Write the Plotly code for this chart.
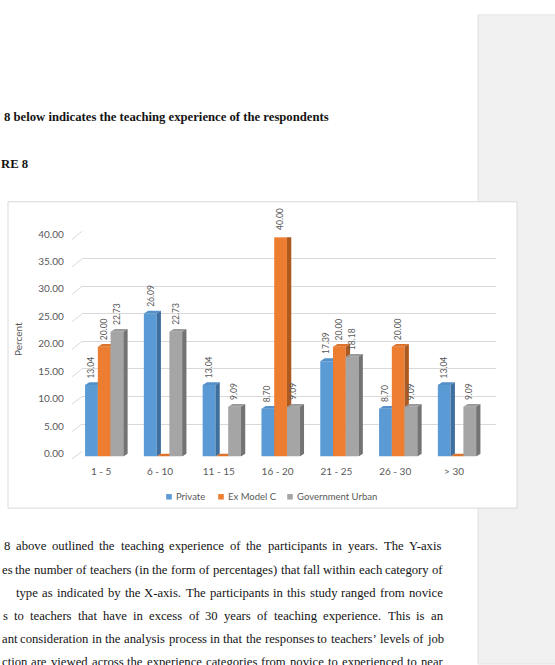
import plotly.graph_objects as go

# ---------------- data ----------------
categories = ["1 - 5", "6 - 10", "11 - 15", "16 - 20", "21 - 25", "26 - 30", "> 30"]
private = [13.04, 26.09, 13.04, 8.70, 17.39, 8.70, 13.04]
ex_model_c = [20.00, 0.00, 0.00, 40.00, 20.00, 20.00, 0.00]
government_urban = [22.73, 22.73, 9.09, 9.09, 18.18, 9.09, 9.09]
series_names = ["Private", "Ex Model C", "Government Urban"]
y_ticks = [0, 5, 10, 15, 20, 25, 30, 35, 40]
y_title = "Percent"

heading_line = "8 below indicates the teaching experience of the respondents"
figure_label = "RE 8"
paragraph_lines = [
    "8 above outlined the teaching experience of the participants in years. The Y-axis",
    "es the number of teachers (in the form of percentages) that fall within each category of",
    "type as indicated by the X-axis. The participants in this study ranged from novice",
    "s to teachers that have in excess of 30 years of teaching experience. This is an",
    "ant consideration in the analysis process in that the responses to teachers\u2019 levels of job",
    "ction are viewed across the experience categories from novice to experienced to near",
]

# ---------------- styling ----------------
W, H = 555, 665
front_colors = ["#5b9bd5", "#ed7d31", "#a5a5a5"]
top_colors = ["#5590c8", "#dd742d", "#9b9b9b"]
side_colors = ["#3e6f9e", "#ad5a20", "#737373"]
text_gray = "#595959"
grid_gray = "#d9d9d9"
chart_font = "Lato"


def px(x):
    return x / W


def py(y):
    return 1 - y / H


# front plane (bars) and back wall (grid) in pixels
FRONT_L, FRONT_R = 74.8, 486.4
FRONT_B, FRONT_T = 455.0, 232.0
BACK_L, BACK_R = 82.0, 496.0
BACK_B, BACK_T = 450.0, 226.0
YMAX = 40.0
DEPTH_X_PX, DEPTH_Y_PX = 4.3, 2.8
BARGAP = 0.349

n_cat = len(categories)
unit_x_px = (FRONT_R - FRONT_L) / n_cat
unit_y_px = (FRONT_B - FRONT_T) / YMAX
ddx = DEPTH_X_PX / unit_x_px
ddy = DEPTH_Y_PX / unit_y_px
bw = (1 - BARGAP) / 3

all_series = [private, ex_model_c, government_urban]
idx = list(range(n_cat))

fig = go.Figure()
annotations = []

# dummy trace so the back-wall subplot exists
fig.add_trace(go.Scatter(x=[], y=[], xaxis="x", yaxis="y", showlegend=False, hoverinfo="skip"))

for k, (vals, name) in enumerate(zip(all_series, series_names)):
    off = -1.5 * bw + k * bw
    fig.add_trace(go.Bar(
        x=idx, y=vals, width=bw, offset=off,
        marker=dict(color=front_colors[k], line=dict(width=0)),
        cliponaxis=False, showlegend=False, name=name,
        xaxis="x2", yaxis="y2", zorder=3 * k,
    ))
    tx, ty, sx, sy = [], [], [], []
    for i, v in enumerate(vals):
        xl = i + off
        xr = xl + bw
        tx += [xl, xl + ddx, xr + ddx, xr, xl, None]
        ty += [v, v + ddy, v + ddy, v, v, None]
        sx += [xr, xr + ddx, xr + ddx, xr, xr, None]
        sy += [0, ddy, v + ddy, v, 0, None]
        if v:
            annotations.append(dict(
                text=f"{v:.2f}", x=xl + bw / 2, y=v, xref="x2", yref="y2",
                xanchor="center", yanchor="bottom", yshift=DEPTH_Y_PX + 3,
                textangle=-90, showarrow=False, borderpad=0,
                font=dict(family=chart_font, size=8.5, color=text_gray)))
    fig.add_trace(go.Scatter(
        x=tx, y=ty, mode="lines", fill="toself", fillcolor=top_colors[k],
        line=dict(width=0, color=top_colors[k]), showlegend=False, hoverinfo="skip",
        cliponaxis=False, xaxis="x2", yaxis="y2", zorder=3 * k + 1,
    ))
    fig.add_trace(go.Scatter(
        x=sx, y=sy, mode="lines", fill="toself", fillcolor=side_colors[k],
        line=dict(width=0, color=side_colors[k]), showlegend=False, hoverinfo="skip",
        cliponaxis=False, xaxis="x2", yaxis="y2", zorder=3 * k + 2,
    ))

shapes = []
# grey side panel of the document page
shapes.append(dict(type="rect", xref="paper", yref="paper", x0=px(478), x1=px(556),
                   y0=py(666), y1=py(6), fillcolor="#f0f0f0",
                   line=dict(color="#e2e2e2", width=1), layer="below"))
# chart frame
shapes.append(dict(type="rect", xref="paper", yref="paper", x0=px(8), x1=px(517),
                   y0=py(507.5), y1=py(196), fillcolor="white",
                   line=dict(color=grid_gray, width=1), layer="below"))
# 3D tick connectors from the front labels to the back wall
for t in y_ticks:
    yf = FRONT_B - t * unit_y_px + 2.5
    yb = BACK_B - t * (BACK_B - BACK_T) / YMAX
    shapes.append(dict(type="line", xref="paper", yref="paper",
                       x0=px(72), y0=py(yf), x1=px(BACK_L), y1=py(yb),
                       line=dict(color=grid_gray, width=1), layer="below"))

# legend (Excel style: small square key followed by the series name)
legend_key_x = [169, 221, 290]
LEGEND_Y = 496
for k, name in enumerate(series_names):
    cx = legend_key_x[k]
    shapes.append(dict(type="rect", xref="paper", yref="paper",
                       x0=px(cx - 2.8), x1=px(cx + 2.8), y0=py(LEGEND_Y + 2.8), y1=py(LEGEND_Y - 2.8),
                       fillcolor=front_colors[k], line=dict(width=0)))
    annotations.append(dict(text=name, x=px(cx + 5), y=py(LEGEND_Y), xref="paper", yref="paper",
                            xanchor="left", yanchor="middle", showarrow=False,
                            font=dict(family=chart_font, size=9.5, color=text_gray)))

# ---------------- document text ----------------
TIMES = {
    'a': 444, 'b': 500, 'c': 444, 'd': 500, 'e': 444, 'f': 333, 'g': 500, 'h': 500,
    'i': 278, 'j': 278, 'k': 500, 'l': 278, 'm': 778, 'n': 500, 'o': 500, 'p': 500,
    'q': 500, 'r': 333, 's': 389, 't': 278, 'u': 500, 'v': 500, 'w': 722, 'x': 500,
    'y': 500, 'z': 444, 'T': 611, 'Y': 722, 'X': 722, 'A': 722, '.': 250, ',': 250,
    '-': 333, '(': 333, ')': 333, '\u2019': 333, ' ': 250,
}
for d in "0123456789":
    TIMES[d] = 500

BODY_FS = 12.7
BODY_FONT = "Liberation Serif"
TEXT_R = 442.0
line_starts = [3, 0.5, 15, 2, 0.5, 1]
line_centers = [546.5, 570, 593.5, 617, 640.5, 664]

for line, x0, yc in zip(paragraph_lines, line_starts, line_centers):
    words = line.split(" ")
    widths = [sum(TIMES.get(c, 500) for c in w) * BODY_FS / 1000 for w in words]
    gap = (TEXT_R - x0 - sum(widths)) / (len(words) - 1)
    x = x0
    for w, wd in zip(words, widths):
        annotations.append(dict(text=w, x=px(x - 1), y=py(yc), xref="paper", yref="paper",
                                xanchor="left", yanchor="middle", showarrow=False,
                                font=dict(family=BODY_FONT, size=BODY_FS, color="#141414")))
        x += wd + gap

annotations.append(dict(text=f"<b>{heading_line}</b>", x=px(2), y=py(110), xref="paper", yref="paper",
                        xanchor="left", yanchor="middle", showarrow=False,
                        font=dict(family=BODY_FONT, size=BODY_FS, color="#141414")))
annotations.append(dict(text=f"<b>{figure_label}</b>", x=px(-1.5), y=py(158), xref="paper", yref="paper",
                        xanchor="left", yanchor="middle", showarrow=False,
                        font=dict(family=BODY_FONT, size=BODY_FS, color="#141414")))
annotations.append(dict(text=y_title, x=px(18.5), y=py(336), xref="paper", yref="paper",
                        xanchor="center", yanchor="middle", textangle=-90, showarrow=False,
                        font=dict(family=chart_font, size=10, color=text_gray)))

fig.update_layout(
    width=W, height=H, autosize=False,
    margin=dict(l=0, r=0, t=0, b=0, pad=0),
    paper_bgcolor="white", plot_bgcolor="rgba(0,0,0,0)",
    barmode="overlay", showlegend=False,
    shapes=shapes, annotations=annotations,
    xaxis=dict(domain=[px(BACK_L), px(BACK_R)], range=[0, 1], visible=False,
               anchor="y", fixedrange=True),
    yaxis=dict(domain=[py(BACK_B), py(BACK_T)], range=[0, YMAX], tickvals=y_ticks,
               showgrid=True, gridcolor=grid_gray, gridwidth=1, showticklabels=False,
               zeroline=False, showline=False, ticks="", anchor="x", fixedrange=True),
    xaxis2=dict(domain=[px(FRONT_L), px(FRONT_R)], range=[-0.5, n_cat - 0.5],
                tickvals=idx, ticktext=categories, showgrid=False, zeroline=False,
                showline=False, ticks="", anchor="y2", ticklabelshift=-3,
                ticklabelstandoff=8,
                tickfont=dict(family=chart_font, size=10, color=text_gray), fixedrange=True),
    yaxis2=dict(domain=[py(FRONT_B), py(FRONT_T)], range=[0, YMAX], tickvals=y_ticks,
                tickformat=".2f", showgrid=False, zeroline=False, showline=False,
                ticks="", anchor="x2", ticklabelstandoff=10, ticklabelshift=-3,
                tickfont=dict(family=chart_font, size=10, color=text_gray), fixedrange=True),
)

fig.write_html("out.html")
